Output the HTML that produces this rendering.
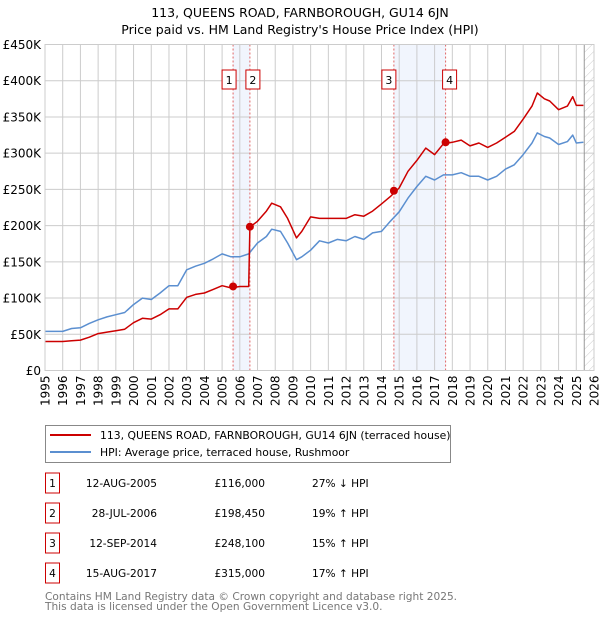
<!DOCTYPE html>
<html><head><meta charset="utf-8"><style>
body{margin:0;background:#fff;width:600px;height:620px;overflow:hidden;font-family:"DejaVu Sans","Liberation Sans",sans-serif}
svg{position:absolute;left:0;top:0}
</style></head><body>
<svg id="chart" width="600" height="620" font-family="DejaVu Sans, Liberation Sans, sans-serif">
<defs><pattern id="hatch" width="6" height="6" patternUnits="userSpaceOnUse" patternTransform="rotate(45)"><line x1="0" y1="0" x2="0" y2="6" stroke="#ccc" stroke-width="1"/></pattern></defs>
<text x="300" y="17" text-anchor="middle" font-size="12.5">113, QUEENS ROAD, FARNBOROUGH, GU14 6JN</text>
<text x="300" y="34" text-anchor="middle" font-size="12.5">Price paid vs. HM Land Registry's House Price Index (HPI)</text>
<g id="plot"></g>
<g>
<rect x="45.5" y="425.5" width="405" height="37" fill="#fff" stroke="#888"/>
<line x1="50" y1="435" x2="91" y2="435" stroke="#cc0000" stroke-width="2"/>
<text x="100" y="439" font-size="10.8">113, QUEENS ROAD, FARNBOROUGH, GU14 6JN (terraced house)</text>
<line x1="50" y1="452" x2="91" y2="452" stroke="#5b8fd0" stroke-width="2"/>
<text x="100" y="456" font-size="10.8">HPI: Average price, terraced house, Rushmoor</text>
</g>
<g id="table" font-size="10.6"></g>
<text x="45" y="600" font-size="10.6" fill="#777">Contains HM Land Registry data © Crown copyright and database right 2025.</text>
<text x="45" y="610" font-size="10.6" fill="#777">This data is licensed under the Open Government Licence v3.0.</text>
</svg>
<script>
const hpiYears=[1995,1996,1996.5,1997,1997.5,1998,1998.5,1999,1999.5,2000,2000.5,2001,2001.5,2002,2002.5,2003,2003.5,2004,2004.5,2005,2005.5,2006,2006.5,2007,2007.5,2007.8,2008.3,2008.7,2009.2,2009.5,2010,2010.5,2011,2011.5,2012,2012.5,2013,2013.5,2014,2014.5,2015,2015.5,2016,2016.5,2017,2017.5,2018,2018.5,2019,2019.5,2020,2020.5,2021,2021.5,2022,2022.5,2022.8,2023.2,2023.5,2024,2024.5,2024.8,2025,2025.4];
const hpiValues=[54,54,58,59,65,70,74,77,80,91,100,98,107,117,117,139,144,148,154,161,157,157,161,176,185,195,192,176,153,157,166,179,176,181,179,185,181,190,192,206,219,238,254,268,263,270,270,273,268,268,263,268,278,284,298,314,328,323,321,312,316,325,314,315];
const redYears=[1995,1996,1996.5,1997,1997.5,1998,1998.5,1999,1999.5,2000,2000.5,2001,2001.5,2002,2002.5,2003,2003.5,2004,2004.5,2005,2005.5,2006,2006.5,2006.57,2007,2007.5,2007.8,2008.3,2008.7,2009.2,2009.5,2010,2010.5,2011,2011.5,2012,2012.5,2013,2013.5,2014,2014.5,2015,2015.5,2016,2016.5,2017,2017.5,2018,2018.5,2019,2019.5,2020,2020.5,2021,2021.5,2022,2022.5,2022.8,2023.2,2023.5,2024,2024.5,2024.8,2025,2025.4];
const redValues=[40,40,41,42,46,51,53,55,57,66,72,71,77,85,85,101,105,107,112,117,114,116,116,198,206,220,231,226,210,183,192,212,210,210,210,210,215,213,220,230,240,252,275,290,307,298,313,315,318,310,314,308,314,322,330,347,365,383,375,372,360,365,378,366,366];
const saleYears=[2005.62,2006.57,2014.7,2017.62];
const salePrices=[116,198.45,248.1,315];
const saleLabels=["1","2","3","4"];
const saleDates=["12-AUG-2005","28-JUL-2006","12-SEP-2014","15-AUG-2017"];
const salePriceText=["£116,000","£198,450","£248,100","£315,000"];
const saleHpiText=["27% ↓ HPI","19% ↑ HPI","15% ↑ HPI","17% ↑ HPI"];
const yTicks=[0,50,100,150,200,250,300,350,400,450];
const yTickLabels=["£0","£50K","£100K","£150K","£200K","£250K","£300K","£350K","£400K","£450K"];
const xTicks=[1995,1996,1997,1998,1999,2000,2001,2002,2003,2004,2005,2006,2007,2008,2009,2010,2011,2012,2013,2014,2015,2016,2017,2018,2019,2020,2021,2022,2023,2024,2025,2026];

const X0=45,X1=594,Y0=370.5,Y1=44.5;
const xs=y=>X0+(y-1995)/(2026-1995)*(X1-X0);
const ys=v=>Y0-v/450*(Y0-Y1);
const NS="http://www.w3.org/2000/svg";
const plot=document.getElementById('plot');
function mk(tag,attrs,parent){const e=document.createElementNS(NS,tag);for(const k in attrs)e.setAttribute(k,attrs[k]);(parent||plot).appendChild(e);return e;}
[[0,1],[2,3]].forEach((p,i)=>{const r=mk('rect',{x:xs(saleYears[p[0]]),y:Y1,width:xs(saleYears[p[1]])-xs(saleYears[p[0]]),height:Y0-Y1,fill:'#eef3fd',opacity:0.8});

});
const h=mk('rect',{x:xs(2025.45),y:Y1,width:X1-xs(2025.45),height:Y0-Y1,fill:'url(#hatch)'});


xTicks.forEach(t=>{const l=mk('line',{x1:xs(t),x2:xs(t),y1:Y1,y2:Y0,stroke:'#ccc'});


const tx=mk('text',{x:0,y:0,'font-size':12,'text-anchor':'end',transform:`translate(${xs(t)+4.5},${Y0+5}) rotate(-90)`});tx.textContent=t;

});
yTicks.forEach((t,i)=>{const l=mk('line',{x1:X0,x2:X1,y1:ys(t),y2:ys(t),stroke:'#ccc'});


const tx=mk('text',{x:X0-4,y:ys(t)+4.5,'font-size':12,'text-anchor':'end'});tx.textContent=yTickLabels[i];

});
mk('line',{x1:xs(2025.45),x2:xs(2025.45),y1:Y1,y2:Y0,stroke:'#999'});
saleYears.forEach((y,i)=>{const l=mk('line',{x1:xs(y),x2:xs(y),y1:Y1,y2:Y0,stroke:'#e06666','stroke-dasharray':'2,2'});


const off=(i==0)?-4:(i==1?3:(i==2?-5:4));
const g=mk('g',{});


mk('rect',{x:xs(y)+off-7,y:70,width:14,height:19,fill:'#fff',stroke:'#cc0000'},g);
const t=mk('text',{x:xs(y)+off,y:84,'font-size':11,'text-anchor':'middle'},g);t.textContent=saleLabels[i];});
function path(xa,va,col,name){const d=xa.map((x,i)=>(i?'L':'M')+xs(x).toFixed(1)+','+ys(va[i]).toFixed(1)).join('');
const p=mk('path',{d:d,fill:'none',stroke:col,'stroke-width':1.5,'stroke-linejoin':'round'});

}
path(hpiYears,hpiValues,'#5b8fd0','hpi-line');
path(redYears,redValues,'#cc0000','price-paid-line');
saleYears.forEach((y,i)=>{const c=mk('circle',{cx:xs(y),cy:ys(salePrices[i]),r:4,fill:'#cc0000'});

});
mk('rect',{x:X0,y:Y1,width:X1-X0,height:Y0-Y1,fill:'none',stroke:'#ccc'});
const tb=document.getElementById('table');
saleYears.forEach((y,i)=>{const cy=483+i*30;
const g=mk('g',{},tb);


mk('rect',{x:45.5,y:cy-10,width:14,height:20,fill:'#fff',stroke:'#cc0000'},g);
let t=mk('text',{x:52.5,y:cy+4,'text-anchor':'middle'},g);t.textContent=saleLabels[i];
t=mk('text',{x:157,y:cy+4,'text-anchor':'end'},g);t.textContent=saleDates[i];
t=mk('text',{x:265,y:cy+4,'text-anchor':'end'},g);t.textContent=salePriceText[i];
t=mk('text',{x:312,y:cy+4},g);t.textContent=saleHpiText[i];});
</script>
</body></html>
